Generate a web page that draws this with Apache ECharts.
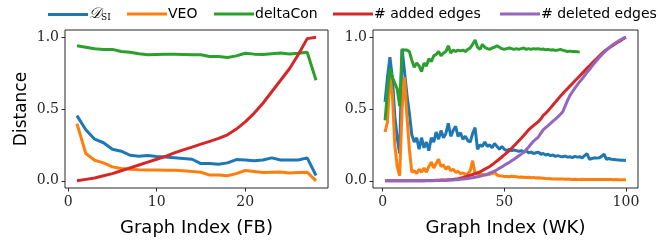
<!DOCTYPE html>
<html lang="en">
<head>
    <meta charset="UTF-8">
    <title>Distance vs graph index</title>
    <script src="https://cdn.jsdelivr.net/npm/echarts@6/dist/echarts.min.js"></script>
    <style>
        body, html {
            margin: 0;
            padding: 0;
            background: #fff;
        }
        #main {
            width: 658px;
            height: 250px;
        }
    </style>
</head>
<body>
<div id="main"></div>

<script>
    // ---- data ----
    var seriesNames = ['DSI', 'VEO', 'deltaCon', '# added edges', '# deleted edges'];
    var colors = ['#1f77b4', '#ff7f0e', '#2ca02c', '#d62728', '#9467bd'];

    // FB, graph index 1..28
    var fbDsi = [0.454, 0.356, 0.29, 0.265, 0.22, 0.206, 0.178, 0.171, 0.176, 0.17, 0.165, 0.16, 0.155, 0.15,
        0.12, 0.12, 0.115, 0.125, 0.148, 0.145, 0.14, 0.145, 0.16, 0.145, 0.145, 0.145, 0.16, 0.037];
    var fbVeo = [0.398, 0.19, 0.143, 0.125, 0.097, 0.086, 0.08, 0.077, 0.075, 0.075, 0.074, 0.073, 0.07, 0.065,
        0.06, 0.04, 0.04, 0.035, 0.05, 0.072, 0.065, 0.058, 0.06, 0.062, 0.055, 0.058, 0.06, 0.0];
    var fbDelta = [0.94, 0.93, 0.92, 0.915, 0.915, 0.9, 0.895, 0.885, 0.878, 0.88, 0.882, 0.882, 0.88, 0.878,
        0.878, 0.865, 0.865, 0.858, 0.87, 0.888, 0.882, 0.88, 0.885, 0.89, 0.883, 0.888, 0.895, 0.70];
    var fbAdded = [0.0, 0.01, 0.02, 0.035, 0.05, 0.07, 0.09, 0.11, 0.13, 0.15, 0.17, 0.195, 0.215, 0.235,
        0.255, 0.275, 0.295, 0.32, 0.36, 0.41, 0.47, 0.54, 0.62, 0.70, 0.78, 0.88, 0.99, 1.0];

    // WK, graph index 1..100 (deltaCon stops at 81)
    var wkDsi = [0.55, 0.72, 0.86, 0.72, 0.45, 0.30, 0.19, 0.92, 0.76, 0.6,
        0.47, 0.32, 0.27, 0.3, 0.22, 0.3, 0.23, 0.27, 0.21, 0.3,
        0.27, 0.34, 0.29, 0.35, 0.3, 0.33, 0.4, 0.31, 0.35, 0.38,
        0.31, 0.335, 0.29, 0.31, 0.28, 0.27, 0.33, 0.37, 0.22, 0.25,
        0.24, 0.27, 0.24, 0.25, 0.23, 0.26, 0.24, 0.22, 0.24, 0.22,
        0.21, 0.22, 0.21, 0.215, 0.21, 0.205, 0.21, 0.2, 0.21, 0.195,
        0.2, 0.19, 0.195, 0.2, 0.185, 0.19, 0.18, 0.185, 0.175, 0.18,
        0.17, 0.175, 0.17, 0.168, 0.172, 0.165, 0.168, 0.162, 0.17, 0.165,
        0.168, 0.16, 0.175, 0.19, 0.15, 0.155, 0.16, 0.158, 0.16, 0.17,
        0.185, 0.15, 0.155, 0.15, 0.148, 0.146, 0.145, 0.144, 0.143, 0.142];
    var wkVeo = [0.34, 0.41, 0.72, 0.6, 0.25, 0.1, 0.035, 0.5, 0.72, 0.45,
        0.22, 0.06, 0.07, 0.05, 0.08, 0.06, 0.09, 0.06, 0.1, 0.13,
        0.09, 0.12, 0.15, 0.1, 0.11, 0.08, 0.1, 0.07, 0.08, 0.06,
        0.065, 0.05, 0.055, 0.045, 0.05, 0.07, 0.14, 0.05, 0.045, 0.05,
        0.045, 0.04, 0.042, 0.045, 0.05, 0.06, 0.04, 0.035, 0.033, 0.03,
        0.03, 0.028, 0.032, 0.03, 0.028, 0.025, 0.027, 0.025, 0.023, 0.025,
        0.022, 0.024, 0.02, 0.022, 0.02, 0.018, 0.016, 0.015, 0.014, 0.013,
        0.012, 0.012, 0.013, 0.012, 0.011, 0.012, 0.011, 0.01, 0.011, 0.01,
        0.01, 0.011, 0.01, 0.01, 0.009, 0.01, 0.009, 0.01, 0.009, 0.01,
        0.009, 0.009, 0.01, 0.009, 0.008, 0.009, 0.008, 0.008, 0.008, 0.008];
    var wkDelta = [0.42, 0.62, 0.78, 0.72, 0.68, 0.64, 0.52, 0.91, 0.91, 0.91,
        0.9, 0.84, 0.79, 0.82, 0.8, 0.76, 0.82, 0.8, 0.85, 0.83,
        0.87, 0.88, 0.9, 0.87, 0.89, 0.9, 0.94, 0.89, 0.91, 0.9,
        0.91, 0.905, 0.91, 0.9, 0.915, 0.925, 0.95, 0.98, 0.93, 0.915,
        0.95, 0.93, 0.92, 0.915, 0.925, 0.93, 0.94, 0.93, 0.92, 0.915,
        0.92, 0.925, 0.92, 0.915, 0.92, 0.915, 0.92, 0.925, 0.915, 0.92,
        0.915, 0.92, 0.918, 0.92, 0.915, 0.918, 0.912, 0.915, 0.91, 0.912,
        0.908, 0.91, 0.915, 0.91, 0.905, 0.9, 0.903, 0.9, 0.9, 0.898,
        0.897];
    var wkAdded = [0, 0, 0, 0, 0, 0, 0, 0, 0, 0,
        0, 0, 0, 0, 0, 0.001, 0.001, 0.002, 0.002, 0.003,
        0.003, 0.004, 0.004, 0.005, 0.005, 0.006, 0.007, 0.008, 0.01, 0.012,
        0.015, 0.019, 0.023, 0.028, 0.034, 0.039, 0.044, 0.05, 0.056, 0.063,
        0.072, 0.081, 0.09, 0.1, 0.112, 0.125, 0.138, 0.152, 0.166, 0.18,
        0.195, 0.21, 0.227, 0.244, 0.261, 0.279, 0.297, 0.316, 0.335, 0.355,
        0.37, 0.385, 0.398, 0.412, 0.43, 0.455, 0.47, 0.488, 0.508, 0.528,
        0.548, 0.568, 0.588, 0.607, 0.625, 0.642, 0.66, 0.677, 0.695, 0.712,
        0.73, 0.748, 0.766, 0.784, 0.8, 0.818, 0.835, 0.851, 0.868, 0.885,
        0.9, 0.913, 0.925, 0.936, 0.947, 0.958, 0.968, 0.978, 0.99, 1.0];
    var wkDeleted = [0, 0, 0, 0, 0, 0, 0, 0, 0, 0,
        0, 0, 0, 0, 0, 0, 0, 0, 0.001, 0.001,
        0.001, 0.002, 0.002, 0.002, 0.003, 0.003, 0.004, 0.005, 0.006, 0.007,
        0.008, 0.01, 0.012, 0.014, 0.016, 0.019, 0.022, 0.025, 0.028, 0.032,
        0.036, 0.041, 0.046, 0.053, 0.06, 0.068, 0.077, 0.087, 0.097, 0.108,
        0.118, 0.128, 0.139, 0.15, 0.162, 0.174, 0.186, 0.2, 0.217, 0.236,
        0.256, 0.276, 0.29, 0.305, 0.33, 0.355, 0.37, 0.385, 0.4, 0.415,
        0.43, 0.445, 0.462, 0.48, 0.52, 0.56, 0.595, 0.62, 0.645, 0.668,
        0.69, 0.71, 0.733, 0.755, 0.775, 0.797, 0.818, 0.838, 0.858, 0.876,
        0.894, 0.91, 0.925, 0.94, 0.952, 0.963, 0.974, 0.984, 0.993, 1.0];

    var fbTicks = [0, 10, 20];
    var wkTicks = [0, 50, 100];
    var yTicks = [0, 0.5, 1.0];

    // pair values with graph index (starting at 1)
    function withIndex(values) {
        var out = [];
        for (let i = 0; i < values.length; i++) {
            out.push([i + 1, values[i]]);
        }
        return out;
    }

    var frameColor = '#262626';
    var tickFont = {fontFamily: 'DejaVu Serif', fontSize: 14, color: '#262626'};

    function xAxis(grid, min, max, ticks, name) {
        return {
            type: 'value', gridIndex: grid, min: min, max: max,
            name: name, nameLocation: 'middle', nameGap: 31,
            nameTextStyle: {fontFamily: 'DejaVu Sans', fontSize: 18, color: '#000'},
            axisLine: {show: false, onZero: false},
            axisTick: {show: true, length: 3.5, customValues: ticks, lineStyle: {color: frameColor}},
            axisLabel: Object.assign({customValues: ticks, margin: 7}, tickFont),
            splitLine: {show: false}
        };
    }

    function yAxis(grid, name) {
        var ax = {
            type: 'value', gridIndex: grid, min: -0.05, max: 1.05,
            axisLine: {show: false, onZero: false},
            axisTick: {show: true, length: 3.5, customValues: yTicks, lineStyle: {color: frameColor}},
            axisLabel: Object.assign({
                customValues: yTicks, margin: 6,
                formatter: function (v) { return v.toFixed(1); }
            }, tickFont),
            splitLine: {show: false}
        };
        if (name) {
            ax.name = name;
            ax.nameLocation = 'middle';
            ax.nameGap = 35;
            ax.nameTextStyle = {fontFamily: 'DejaVu Sans', fontSize: 17, color: '#000'};
        }
        return ax;
    }

    function line(name, xi, values) {
        var idx = seriesNames.indexOf(name);
        return {
            name: name, type: 'line', xAxisIndex: xi, yAxisIndex: xi,
            data: withIndex(values), showSymbol: false, symbol: 'none',
            lineStyle: {width: 3, color: colors[idx]}, itemStyle: {color: colors[idx]}
        };
    }

    // one legend per entry so each sits where the reference has it
    var legendLeft = [43, 122, 209, 328, 495];
    var legends = seriesNames.map(function (n, i) {
        return {
            data: [n], left: legendLeft[i], top: 2,
            icon: 'rect', itemWidth: 40, itemHeight: 3, itemGap: 0,
            textStyle: {
                fontFamily: 'DejaVu Sans', fontSize: 14, color: '#000', padding: [0, 0, 0, -4],
                rich: {
                    d: {fontFamily: 'DejaVu Serif', fontStyle: 'italic', fontSize: 15},
                    s: {fontFamily: 'DejaVu Serif', fontSize: 9, verticalAlign: 'bottom', padding: [6, 0, 0, 0]}
                }
            },
            formatter: function (name) {
                return name === 'DSI' ? '{d|𝒟}{s|SI}' : name;
            }
        };
    });

    var chart = echarts.init(document.getElementById('main'), null, {renderer: 'canvas'});

    var option = {
        animation: false,
        backgroundColor: '#fff',
        legend: legends,
        grid: [
            {left: 65, right: 330, top: 30, bottom: 62, show: true, borderColor: frameColor, borderWidth: 1},
            {left: 373, right: 20, top: 30, bottom: 62, show: true, borderColor: frameColor, borderWidth: 1}
        ],
        xAxis: [
            xAxis(0, -0.35, 29.35, fbTicks, 'Graph Index (FB)'),
            xAxis(1, -3.95, 104.95, wkTicks, 'Graph Index (WK)')
        ],
        yAxis: [
            yAxis(0, 'Distance'),
            yAxis(1, null)
        ],
        series: [
            line('DSI', 0, fbDsi),
            line('VEO', 0, fbVeo),
            line('deltaCon', 0, fbDelta),
            line('# added edges', 0, fbAdded),
            line('DSI', 1, wkDsi),
            line('VEO', 1, wkVeo),
            line('deltaCon', 1, wkDelta),
            line('# added edges', 1, wkAdded),
            line('# deleted edges', 1, wkDeleted)
        ]
    };

    chart.setOption(option);
</script>
</body>
</html>
